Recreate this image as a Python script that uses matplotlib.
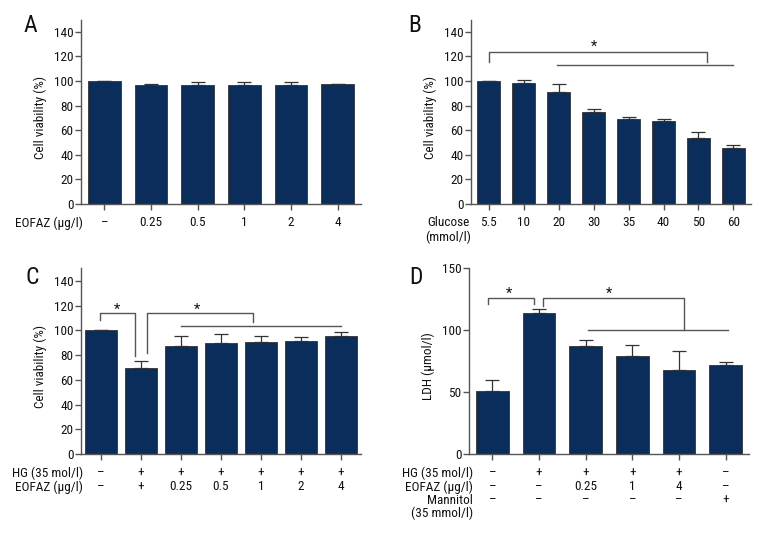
import matplotlib
matplotlib.use("Agg")
import matplotlib.pyplot as plt
from matplotlib import font_manager

# pick a narrow/condensed face if one is installed
fam, stretch = "DejaVu Sans", "normal"
best = None
for f in font_manager.fontManager.ttflist:
    nm = f.name
    st = str(f.stretch)
    isnarrow = ("Narrow" in nm) or ("Condensed" in nm) or st in ("condensed", "semi-condensed", "extra-condensed")
    if isnarrow and f.style == "normal" and str(f.weight) in ("400", "normal", "regular", "book"):
        score = 0
        if "Liberation Sans Narrow" in nm:
            score = 3
        elif "Roboto" in nm or "Open Sans" in nm:
            score = 2
        elif "DejaVu" in nm:
            score = 1
        if best is None or score > best[0]:
            best = (score, nm, st)
if best:
    fam, stretch = best[1], best[2]
plt.rcParams['font.family'] = [fam, 'DejaVu Sans']
plt.rcParams['font.stretch'] = stretch

BAR = "#0b2d5b"
AX = "#555555"
FS = 9.5

# Panel A
a_labels = ["–", "0.25", "0.5", "1", "2", "4"]
a_vals = [100, 96.8, 97.0, 97.0, 96.8, 97.2]
a_err = [0, 0.9, 2.3, 2.3, 2.0, 0.5]

# Panel B
b_labels = ["5.5", "10", "20", "30", "35", "40", "50", "60"]
b_vals = [100, 98.3, 91.0, 74.8, 68.9, 67.3, 54.0, 45.6]
b_err = [0, 2.4, 6.2, 2.7, 2.0, 1.5, 4.8, 2.0]

# Panel C
c_hg = ["–", "+", "+", "+", "+", "+", "+"]
c_eofaz = ["–", "+", "0.25", "0.5", "1", "2", "4"]
c_vals = [100, 69.9, 87.4, 89.8, 90.6, 91.7, 95.2]
c_err = [0, 5.4, 7.8, 7.3, 4.6, 3.0, 3.8]

# Panel D
d_hg = ["–", "+", "+", "+", "+", "–"]
d_eofaz = ["–", "–", "0.25", "1", "4", "–"]
d_mann = ["–", "–", "–", "–", "–", "+"]
d_vals = [50.9, 114.0, 86.9, 79.1, 68.1, 72.1]
d_err = [9.1, 2.9, 5.1, 9.1, 14.7, 2.4]

W, H = 780, 540
fig = plt.figure(figsize=(7.8, 5.4), dpi=100)

def make_ax(x0, x1, ybot, ytop):
    return fig.add_axes([x0 / W, 1 - ybot / H, (x1 - x0) / W, (ybot - ytop) / H])

def style(ax, n, ymax, yticks, ylabel, width, vals, errs):
    x = list(range(n))
    ax.bar(x, vals, width=width, color=BAR, edgecolor="#333333", linewidth=0.6, zorder=2)
    ax.errorbar(x, vals, yerr=[[0] * n, errs], fmt="none", ecolor="#333333",
                elinewidth=0.9, capsize=5, capthick=0.9, zorder=1)
    ax.set_xlim(-0.5, n - 0.5)
    ax.set_ylim(0, ymax)
    ax.set_yticks(yticks)
    ax.set_xticks(x)
    ax.set_xticklabels([])
    for s in ["top", "right"]:
        ax.spines[s].set_visible(False)
    for s in ["left", "bottom"]:
        ax.spines[s].set_color(AX)
        ax.spines[s].set_linewidth(1.0)
    ax.tick_params(axis="both", colors=AX, labelcolor="#111111", labelsize=FS,
                   length=4, width=1.0, pad=1.5)
    ax.set_ylabel(ylabel, fontsize=FS, color="#111111")
    ax.yaxis.set_label_coords(-0.121, 0.47)

def row_text(ax, y_px_offset, labels, row_label, label_x_px, ax_bottom_px, ha="right"):
    y = 1 - (ax_bottom_px + y_px_offset) / H
    for i, lab in enumerate(labels):
        xd = ax.transData.transform((i, 0))[0]
        fig.text(xd / fig.dpi / 7.8, y, lab, ha="center", va="center", fontsize=FS, color="#111111")
    if row_label:
        fig.text(label_x_px / W, y, row_label, ha=ha, va="center", fontsize=FS, color="#111111")

def bracket(ax, pts, color="#555555"):
    xs = [p[0] for p in pts]
    ys = [p[1] for p in pts]
    ax.plot(xs, ys, color=color, lw=1.0, clip_on=False, zorder=3)

def star(ax, x, y):
    ax.text(x, y, "*", ha="center", va="center", fontsize=10.5, color="#111111")

# A
axA = make_ax(81, 361, 204, 19.5)
style(axA, 6, 150, range(0, 141, 20), "Cell viability (%)", 0.7, a_vals, a_err)
# B
axB = make_ax(471, 751, 204, 19.5)
style(axB, 8, 150, range(0, 141, 20), "Cell viability (%)", 0.67, b_vals, b_err)
# C
axC = make_ax(81, 361, 454, 268.5)
style(axC, 7, 150, range(0, 141, 20), "Cell viability (%)", 0.8, c_vals, c_err)
# D
axD = make_ax(469, 749, 454, 268)
style(axD, 6, 150, [0, 50, 100, 150], "LDH (μmol/l)", 0.7, d_vals, d_err)

fig.canvas.draw()

row_text(axA, 19, a_labels, "EOFAZ (μg/l)", 83, 204)
row_text(axB, 19, b_labels, None, 0, 204)
fig.text(448 / W, 1 - 223 / H, "Glucose", ha="center", va="center", fontsize=FS, color="#111111")
fig.text(448 / W, 1 - 237 / H, "(mmol/l)", ha="center", va="center", fontsize=FS, color="#111111")
row_text(axC, 19, c_hg, "HG (35 mol/l)", 83, 454)
row_text(axC, 33, c_eofaz, "EOFAZ (μg/l)", 83, 454)
row_text(axD, 19, d_hg, "HG (35 mol/l)", 473, 454)
row_text(axD, 33, d_eofaz, "EOFAZ (μg/l)", 473, 454)
row_text(axD, 46, d_mann, "Mannitol", 473, 454)
fig.text(473 / W, 1 - 513 / H, "(35 mmol/l)", ha="right", va="center", fontsize=FS, color="#111111")

# significance brackets
bracket(axB, [(0, 115.7), (0, 123.8), (6.25, 123.8), (6.25, 115.7)])
bracket(axB, [(1.95, 113.0), (7.0, 113.0)])
star(axB, 3.0, 128)

bracket(axC, [(-0.03, 108.4), (-0.03, 113.8), (0.85, 113.8), (0.85, 79.6)])
bracket(axC, [(1.15, 81.5), (1.15, 113.8), (3.8, 113.8), (3.8, 106.5)])
bracket(axC, [(2.0, 103.6), (6.0, 103.6)])
star(axC, 0.4, 116.5)
star(axC, 2.4, 116.5)

bracket(axD, [(-0.1, 121.2), (-0.1, 126), (0.9, 126), (0.9, 121.2)])
bracket(axD, [(1.08, 119.3), (1.08, 126), (4.1, 126), (4.1, 99.7)])
bracket(axD, [(2.05, 99.7), (5.05, 99.7)])
star(axD, 0.35, 129)
star(axD, 2.5, 129)

# panel letters
for lx, ly, t in [(30, 25, "A"), (415, 25, "B"), (32, 277, "C"), (416, 278, "D")]:
    fig.text(lx / W, 1 - ly / H, t, ha="center", va="center", fontsize=17, color="#111111")

fig.savefig("out.png", dpi=100, facecolor="white")
